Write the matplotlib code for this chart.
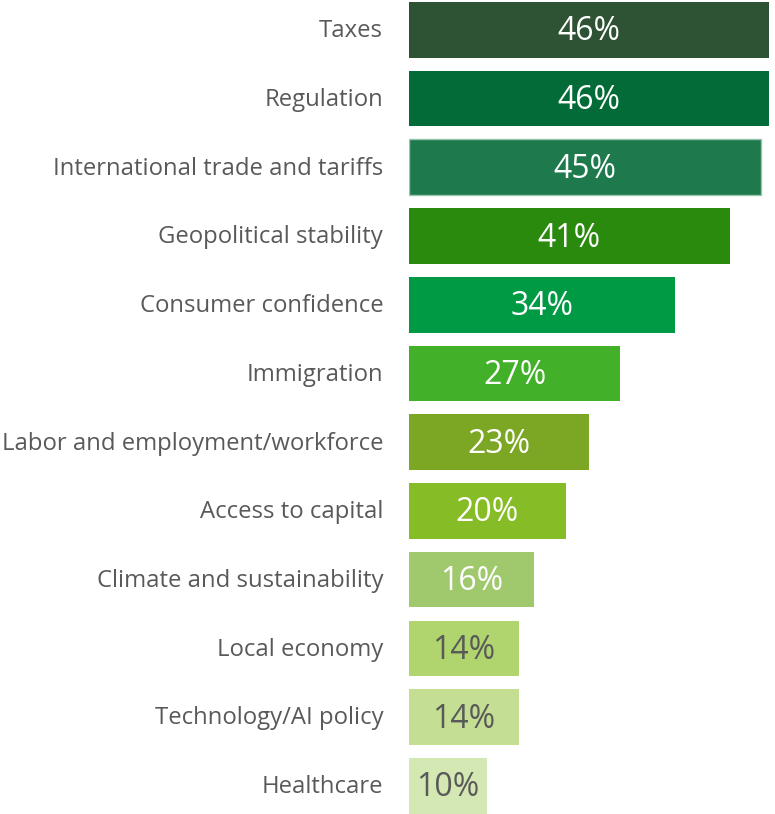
import numpy as np
import matplotlib
matplotlib.use("Agg")
import matplotlib.pyplot as plt

plt.rcParams['font.family'] = ['Open Sans', 'DejaVu Sans']

categories = [
    "Taxes", "Regulation", "International trade and tariffs",
    "Geopolitical stability", "Consumer confidence", "Immigration",
    "Labor and employment/workforce", "Access to capital",
    "Climate and sustainability", "Local economy",
    "Technology/AI policy", "Healthcare",
]
values = [46, 46, 45, 41, 34, 27, 23, 20, 16, 14, 14, 10]
colors = [
    "#2D5234", "#036B37", "#1E7A4D", "#2A8A0E", "#009A44", "#43B02A",
    "#7BA724", "#86BC25", "#A0C96E", "#B0D46E", "#C4DE93", "#D4E8B4",
]
label_colors = ["white"] * 9 + ["#595959"] * 3

W, H = 775, 814
fig = plt.figure(figsize=(W / 100, H / 100), dpi=100)
ax = fig.add_axes([409 / W, 0, (769 - 409) / W, 1])

y = np.arange(len(categories))
bars = ax.barh(y, values, height=0.81, color=colors)
bars[2].set_edgecolor("#9CC3AE")
bars[2].set_linewidth(1.0)

ax.set_xlim(0, 46)
ax.set_ylim(11.41, -0.434)

for i, b in enumerate(bars):
    ax.text(b.get_width() / 2, b.get_y() + b.get_height() / 2 + 0.03, f"{values[i]}%",
            ha="center", va="center", fontsize=23, color=label_colors[i])
    ax.text(-3.3, i + 0.02, categories[i], ha="right", va="center",
            fontsize=17.2, color="#595959")

ax.axis("off")
fig.savefig("out.png", dpi=100)
